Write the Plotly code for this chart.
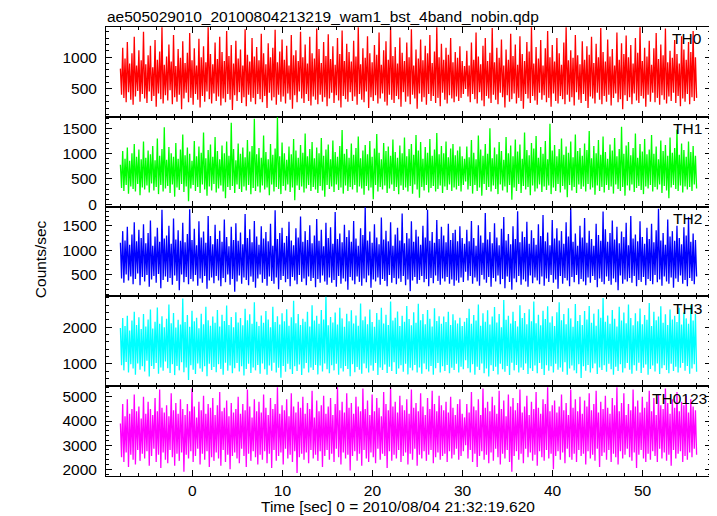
import numpy as np
import plotly.graph_objects as go
from plotly.subplots import make_subplots

title_text = "ae505029010_20100804213219_wam1_bst_4band_nobin.qdp"
x_title = "Time [sec] 0 = 2010/08/04 21:32:19.620"
y_title = "Counts/sec"
band_names = ["TH0", "TH1", "TH2", "TH3", "TH0123"]
band_colors = ["#ff0000", "#00ff00", "#0000ff", "#00ffff", "#ff00ff"]

t_start = -8.0
t_end = 56.0

th0 = [
    820,410,1150,360,980,290,1240,450,900,330,1060,250,1320,380,870,470,1110,300,950,420,
    1400,350,890,280,1030,460,1180,310,840,390,1270,220,960,430,1090,340,1470,270,880,400,
    1010,320,1200,480,930,260,1350,370,860,300,1130,410,990,180,1250,350,910,440,1070,290,
    1380,360,950,250,1140,420,870,330,1290,210,1000,390,1170,300,920,460,1470,340,1050,270,
    890,430,1230,310,970,380,1320,240,1080,350,940,290,1410,420,1020,330,1190,170,900,400,
    1260,310,980,450,1120,280,870,370,1440,230,1040,410,930,300,1300,360,1010,260,1160,420,
    950,340,1370,290,1060,390,890,200,1220,440,1000,320,1150,370,1430,250,920,410,1090,300,
    1280,380,960,270,1180,430,870,330,1350,190,1030,400,1110,290,940,460,1400,350,1000,280,
    1200,420,900,310,1320,240,1060,380,980,330,1450,260,1130,410,910,300,1240,370,1020,230,
    1360,350,970,440,1170,280,880,400,1300,320,1050,210,1420,390,940,340,1210,300,1080,450,
    930,310,1260,380,1010,250,1470,420,890,330,1140,290,990,460,1330,200,1060,370,920,310,
    1190,400,1040,270,1390,350,880,430,1110,300,1250,240,960,410,1470,330,1020,280,1160,390,
    900,340,1310,220,1070,450,940,300,1230,380,1000,260,1440,410,870,350,1120,190,980,430,
    1280,300,950,370,1180,250,1060,420,1350,310,910,390,1090,280,1470,360,1000,230,1210,440,
    960,330,1150,270,1040,400,1300,350,920,290,1080,380,990,310,1170,360,940,420,860,500,
    1100,380,870,290,1230,420,960,340,1390,270,1010,450,890,320,1180,230,1300,390,940,350,
    1070,280,1460,410,920,330,1150,260,990,440,1280,370,870,210,1120,400,960,300,1370,340,
    1020,430,1200,270,880,360,1330,310,1050,190,940,420,1240,350,1090,280,1470,390,900,320,
    1160,250,980,440,1270,330,870,400,1140,290,1410,360,1000,220,1190,430,930,310,1300,270,
    1060,390,880,340,1230,260,1470,410,950,300,1110,370,990,240,1350,450,1030,330,890,280,
    1250,420,960,310,1170,200,1040,380,1320,350,910,270,1210,440,1000,330,1460,260,1080,390,
    930,300,1280,410,1010,240,1130,360,870,430,1390,290,960,340,1220,180,1050,400,1340,310,
    1000,370,1190,260,900,430,1300,320,1070,280,1470,390,940,350,1150,220,1010,410,1260,300,
    880,440,1140,290,1380,360,970,250,1200,400,1030,330,1450,270,920,380,1100,310,990,440,
    1270,280,1050,390,900,230,1330,350,1120,300,960,420,1240,260,1080,370,1410,310,1000,360,
]

th1 = [
    780,320,1050,260,900,380,1120,210,860,350,1010,300,1190,250,940,400,1080,180,890,330,
    1240,290,920,370,1060,230,990,410,1150,270,870,340,1300,200,960,380,1090,250,1520,310,
    880,360,1130,220,1010,390,940,150,1210,330,900,280,1080,400,1380,240,970,350,1120,60,
    1000,310,860,380,1250,260,950,340,1140,220,1020,390,1420,290,910,170,1070,350,1180,270,
    940,400,1330,230,1050,310,890,370,1160,250,1010,120,1240,340,960,280,1610,360,1090,220,
    870,390,1200,300,1000,240,1120,350,930,270,1270,380,1040,200,1150,320,1690,260,990,350,
    1110,230,920,370,1360,290,1030,330,890,180,1190,390,980,250,1100,340,1720,300,950,200,
    1220,360,1010,270,880,390,1140,240,990,330,1290,80,1060,370,920,280,1170,350,1020,230,
    1400,310,950,380,1090,260,1230,340,910,290,1120,220,1010,360,1310,270,960,150,1080,380,
    1180,300,890,350,1260,240,1030,390,940,280,1150,330,1470,210,1000,370,1090,260,920,340,
    1200,290,980,380,1110,230,1340,350,910,310,1060,190,1170,360,990,270,1250,330,940,100,
    1100,380,1390,250,1020,340,890,290,1210,370,1050,220,1140,310,960,390,1280,260,1030,340,
    920,200,1160,370,1010,280,1320,330,950,250,1090,360,1190,210,980,390,1370,290,1060,130,
    1230,340,900,270,1130,380,1020,230,1290,320,960,360,1080,250,1410,300,990,370,1150,220,
    1010,350,1240,280,930,390,1100,260,1190,330,970,290,1060,360,1140,250,950,380,900,450,
    1140,290,930,360,1270,210,1020,380,890,260,1360,330,1080,170,960,400,1190,280,1000,340,
    1500,250,910,370,1120,300,990,200,1230,390,1050,270,880,350,1330,230,1010,380,1160,90,
    950,330,1280,260,1040,400,1180,220,900,360,1420,290,1070,340,970,180,1210,370,1100,250,
    1350,310,920,390,1130,240,1000,350,1250,280,890,370,1590,200,1060,330,1170,260,950,400,
    1090,230,1300,360,980,290,1140,140,1020,380,1240,270,930,340,1380,220,1050,390,1110,300,
    960,350,1200,250,1070,400,1450,290,910,330,1150,190,1010,370,1270,260,980,340,1340,230,
    1030,380,900,280,1180,350,1060,210,1310,390,950,300,1090,260,1530,340,1000,170,1160,370,
    1230,270,970,390,1110,240,1400,320,920,360,1190,280,1040,200,1290,350,990,310,1080,380,
    1370,250,1000,340,1140,290,890,390,1260,220,1050,360,1170,270,960,120,1320,330,1020,380,
    1110,300,1480,260,980,370,1200,230,1070,350,940,290,1240,340,1030,260,1150,390,960,310,
]

th2 = [
    1150,420,1390,330,1200,500,1480,380,1110,460,1320,300,1570,410,1180,520,1420,280,1250,450,
    1530,360,1140,490,1350,250,1610,400,1090,470,1280,330,1460,510,1170,220,1830,390,1240,460,
    1300,350,1500,430,1130,290,1650,480,1220,370,1410,180,1190,500,1560,340,1160,450,1330,300,
    1840,410,1210,360,1440,490,1100,270,1590,420,1260,330,1380,470,1150,210,1700,380,1290,440,
    1120,320,1520,470,1230,380,1400,260,1170,430,1630,340,1270,500,1080,290,1480,410,1210,150,
    1550,360,1190,480,1360,310,1120,440,1740,390,1250,280,1430,460,1160,350,1600,230,1280,420,
    1110,500,1490,330,1240,410,1370,270,1180,460,1540,370,1090,310,1820,440,1230,200,1350,390,
    1460,470,1150,340,1290,410,1580,260,1200,450,1100,380,1450,300,1260,490,1690,350,1170,420,
    1390,280,1210,460,1510,370,1140,430,1300,240,1640,410,1190,330,1420,480,1080,360,1560,290,
    1250,440,1470,330,1130,390,1780,250,1230,470,1340,310,1160,420,1520,360,1270,190,1410,450,
    1170,380,1600,300,1240,460,1090,350,1450,270,1310,420,1880,340,1200,480,1380,230,1150,400,
    1530,360,1260,440,1120,290,1670,410,1220,370,1400,260,1180,490,1570,330,1090,430,1320,300,
    1460,420,1200,350,1750,470,1140,280,1350,400,1240,160,1590,380,1170,450,1420,310,1280,390,
    1110,470,1500,340,1260,410,1830,260,1190,430,1370,320,1150,480,1620,370,1230,290,1480,420,
    1300,360,1160,450,1540,310,1210,400,1350,270,1420,380,1180,330,1490,440,1250,350,1130,560,
    1420,380,1180,470,1600,310,1250,440,1090,360,1510,270,1300,490,1150,400,1760,330,1220,450,
    1370,250,1140,430,1550,360,1260,480,1100,300,1440,410,1680,220,1200,460,1330,350,1120,190,
    1490,420,1230,340,1800,470,1160,290,1380,400,1270,360,1580,250,1130,480,1410,320,1250,440,
    1110,380,1530,300,1290,460,1720,270,1180,420,1360,350,1100,490,1620,330,1240,400,1450,210,
    1200,470,1390,310,1130,430,1570,380,1280,260,1860,450,1170,340,1340,490,1090,300,1500,410,
    1260,360,1660,280,1150,440,1400,330,1230,470,1090,390,1540,240,1310,420,1190,350,1790,300,
    1430,460,1170,370,1350,290,1610,420,1220,340,1480,180,1140,480,1380,310,1270,400,1560,360,
    1100,430,1700,330,1240,470,1320,260,1180,390,1590,350,1270,450,1130,280,1460,410,1230,370,
    1540,300,1160,490,1410,340,1850,400,1200,270,1350,460,1110,360,1630,310,1280,440,1390,230,
    1190,420,1500,350,1250,480,1120,310,1470,390,1300,260,1680,430,1170,370,1340,300,1210,460,
]

th3 = [
    1980,960,2250,820,2030,1050,2310,760,1910,990,2180,870,2420,700,2060,1010,2270,840,1950,930,
    2360,790,2020,1080,2210,650,2480,940,1960,860,2150,1020,2540,730,2090,900,2300,810,2000,1060,
    2230,880,2620,750,2110,990,2390,690,1990,940,2200,820,2070,1040,2780,770,2140,900,2330,560,
    2010,960,2450,840,2160,720,2260,1010,1970,870,2370,780,2080,930,2560,660,2190,1000,2040,830,
    2290,910,2120,770,2470,990,2020,860,2340,700,2170,1030,2590,810,2060,950,2280,740,2000,880,
    2410,1020,2130,790,2250,930,2050,680,2500,860,2190,1000,2350,750,2090,900,2680,820,2150,970,
    2030,730,2320,1010,2120,850,2440,700,2210,950,2000,810,2560,1030,2140,760,2300,890,2070,620,
    2380,940,2160,780,2490,1000,2040,850,2270,720,2720,930,2110,800,2360,980,2060,690,2230,870,
    2150,1020,2420,760,2020,900,2600,830,2180,970,2310,710,2090,950,2470,790,2210,1010,2840,850,
    2050,740,2280,960,2130,820,2400,1000,2070,700,2530,880,2240,790,2010,940,2370,860,2160,660,
    2460,990,2100,770,2320,910,2040,840,2650,730,2190,1010,2290,880,2080,760,2480,950,2140,810,
    2010,1020,2390,690,2200,900,2530,830,2100,980,2340,750,2060,920,2700,800,2180,1040,2260,720,
    2430,870,2030,960,2310,780,2150,1000,2580,710,2220,890,2050,820,2410,970,2120,760,2640,900,
    2190,730,2360,1010,2080,850,2470,790,2230,940,2020,700,2520,880,2170,1020,2300,760,2090,930,
    2290,800,2140,970,2420,740,2060,890,2350,830,2190,1000,2100,760,2260,920,2030,850,2150,1100,
    2250,880,2500,760,2090,990,2330,700,2180,920,2620,830,2040,1010,2380,740,2150,870,2460,650,
    2070,960,2290,800,2550,920,2130,710,2360,1000,2000,850,2740,780,2200,940,2310,690,2100,1030,
    2420,820,2170,970,2020,760,2600,900,2250,830,2390,1010,2080,720,2490,880,2160,800,2700,950,
    2110,740,2340,1020,2050,860,2450,690,2220,960,2570,810,2130,930,2300,760,2030,1000,2410,840,
    2680,900,2190,780,2360,1040,2080,700,2520,870,2240,950,2010,820,2630,740,2170,990,2330,610,
    2060,930,2440,810,2210,970,2580,760,2120,880,2370,1010,2040,720,2490,900,2260,830,2800,960,
    2150,780,2320,1000,2090,850,2470,700,2230,920,2020,800,2560,990,2180,760,2400,880,2110,1020,
    2620,840,2250,730,2050,960,2380,810,2160,1030,2510,750,2080,890,2330,980,2200,700,2660,860,
    2030,950,2420,790,2190,1010,2290,720,2570,880,2120,960,2350,830,2060,740,2480,1000,2210,800,
    2310,920,2140,760,2530,890,2070,1020,2400,810,2240,940,2090,730,2600,870,2180,990,2360,780,
]

th0123 = [
    3900,2500,4700,2300,4200,2700,4900,2100,4300,2600,4500,2400,5100,2200,4400,2800,4600,2350,4100,2650,
    5000,2450,4300,2750,4800,2150,4500,2550,4250,2850,4950,2300,4400,2600,5300,2050,4550,2700,4350,2400,
    4650,2250,4200,2800,5150,2500,4450,2150,4750,2650,4300,2350,4900,2700,4500,1900,4250,2600,4700,2450,
    4400,2750,5350,2300,4600,2550,4150,2850,4800,2200,4450,2650,5050,2400,4300,2750,4700,2100,4550,2500,
    4950,2350,4250,2700,4650,2450,5200,2150,4400,2800,4550,2300,4850,2600,4200,2000,4750,2550,4350,2700,
    4500,2450,5000,2250,4300,2850,4700,2550,4450,2100,5300,2650,4600,2350,4150,2750,4900,2500,4400,2200,
    4800,2600,4350,2400,5100,2750,4550,2250,4250,2650,4950,2050,4500,2800,4700,2350,5400,2550,4300,2700,
    4650,2200,4450,2850,4900,2450,4200,2600,5150,2300,4600,2750,4350,1850,4800,2500,4550,2650,5000,2400,
    4300,2700,4750,2250,4500,2800,5250,2450,4150,2600,4850,2350,4400,2750,4650,2100,5050,2550,4300,2800,
    4600,2400,4950,2650,4250,2300,4700,2850,5400,2500,4450,2200,4800,2700,4350,2450,5150,2600,4550,1950,
    4750,2550,4300,2750,5000,2350,4600,2650,4400,2150,5350,2800,4500,2450,4850,2300,4250,2700,5100,2500,
    4400,2250,4950,2850,4550,2400,4200,2650,5200,2550,4700,2050,4450,2750,5400,2350,4600,2600,4800,2450,
    4350,2800,5050,2300,4650,2550,4450,2700,4900,2200,4300,2650,5300,2400,4550,2850,4750,2150,4400,2600,
    5150,2450,4600,2750,4250,2350,4950,2600,4500,2800,5250,2250,4700,2500,4400,2700,5050,2400,4650,2550,
    4450,2650,4800,2300,4350,2750,5000,2450,4550,2600,4250,2850,4700,2400,4900,2550,4300,2750,4150,3000,
    4700,2450,4350,2800,5200,2300,4600,2650,4450,2100,4900,2550,4250,2750,5350,2400,4550,2600,4800,2250,
    4400,2700,5000,2350,4650,2850,4300,2500,5250,2200,4500,2650,4850,2450,4200,2800,5100,2300,4600,1900,
    4950,2550,4450,2750,4750,2400,5300,2650,4350,2250,4600,2850,5050,2500,4250,2700,4800,2350,4500,2600,
    5200,2150,4550,2750,4300,2500,4900,2350,4700,2800,5400,2450,4400,2650,4650,2000,4850,2550,4350,2750,
    4600,2400,5100,2700,4450,2250,4750,2850,4250,2500,5300,2400,4550,2650,4900,2300,4400,2800,5000,2550,
    4300,2650,4850,2200,4600,2750,5150,2450,4450,2600,4700,2350,5250,2850,4350,2100,4800,2550,4500,2700,
    5050,2400,4550,2800,4300,2300,4950,2650,4650,2500,5400,2200,4400,2750,4750,2450,5150,2600,4250,2850,
    4700,2500,4450,2350,5300,2700,4600,2050,4850,2600,4350,2800,5000,2450,4550,2300,4800,2650,5250,2400,
    4400,2750,4950,2550,4250,2300,5100,2850,4650,2450,4500,2700,5350,2350,4750,2600,4300,2150,4900,2800,
    4550,2450,5200,2650,4400,2750,4800,2300,4650,2550,5050,2400,4350,2700,4900,2500,4600,2850,4450,2600,
]

series = [th0, th1, th2, th3, th0123]
y_ranges = [[62, 1475], [-47, 1729], [52, 1893], [387, 2841], [1723, 5442]]
y_major = [500, 500, 500, 1000, 1000]
y_minor = [100, 100, 100, 200, 200]
x_range = [-9.6, 57.6]

FONT = "Liberation Sans, Arial, Helvetica, sans-serif"
FS = 15.5

fig = make_subplots(rows=5, cols=1, shared_xaxes=True, vertical_spacing=0)

for i, vals in enumerate(series):
    n = len(vals)
    t = np.linspace(t_start, t_end, n)
    fig.add_trace(
        go.Scatter(x=t, y=vals, mode="lines",
                   line=dict(color=band_colors[i], width=1.3, simplify=False),
                   showlegend=False, hoverinfo="skip"),
        row=i + 1, col=1,
    )
    ax = dict(range=y_ranges[i], dtick=y_major[i], tick0=0,
              showline=True, linecolor="black", linewidth=1, mirror="allticks",
              ticks="inside", ticklen=6, tickcolor="black", showgrid=False, zeroline=False,
              tickfont=dict(family=FONT, size=FS, color="black"), ticklabelstandoff=5,
              minor=dict(dtick=y_minor[i], tick0=0, ticks="inside", ticklen=3, tickcolor="black", showgrid=False))
    fig.update_yaxes(ax, row=i + 1, col=1)
    fig.update_xaxes(dict(range=x_range, dtick=10, tick0=0,
                          showline=True, linecolor="black", linewidth=1, mirror="allticks",
                          ticks="inside", ticklen=6, tickcolor="black", showgrid=False, zeroline=False,
                          tickfont=dict(family=FONT, size=FS, color="black"),
                          minor=dict(dtick=2, tick0=0, ticks="inside", ticklen=3, tickcolor="black", showgrid=False)),
                     row=i + 1, col=1)

fig.update_xaxes(showticklabels=True, row=5, col=1)

label_x = [0.988, 0.988, 0.988, 0.988, 0.996]
annotations = []
for i, name in enumerate(band_names):
    yref = "y domain" if i == 0 else f"y{i+1} domain"
    annotations.append(dict(text=name, xref="paper", yref=yref, x=label_x[i], y=0.985,
                            xanchor="right", yanchor="top", showarrow=False,
                            font=dict(family=FONT, size=FS, color="black")))
annotations.append(dict(text=title_text, xref="paper", yref="paper", x=0.0, y=1.0,
                        xanchor="left", yanchor="bottom", yshift=1, borderpad=0, showarrow=False,
                        font=dict(family=FONT, size=FS, color="black")))
annotations.append(dict(text=y_title, xref="paper", yref="paper", x=-0.109, y=0.483,
                        xanchor="center", yanchor="middle", textangle=-90, showarrow=False,
                        font=dict(family=FONT, size=FS, color="black")))
annotations.append(dict(text=x_title, xref="paper", yref="paper", x=0.483, y=-0.069,
                        xanchor="center", yanchor="middle", showarrow=False,
                        font=dict(family=FONT, size=FS, color="black")))

# The page body carries an 8px margin, so the figure is sized to fill the rest of the window.
fig.update_layout(
    width=709, height=508,
    margin=dict(l=98, r=6, t=19, b=40),
    paper_bgcolor="white", plot_bgcolor="white",
    annotations=annotations,
    font=dict(family=FONT, size=FS, color="black"),
)

fig.write_html("out.html")
